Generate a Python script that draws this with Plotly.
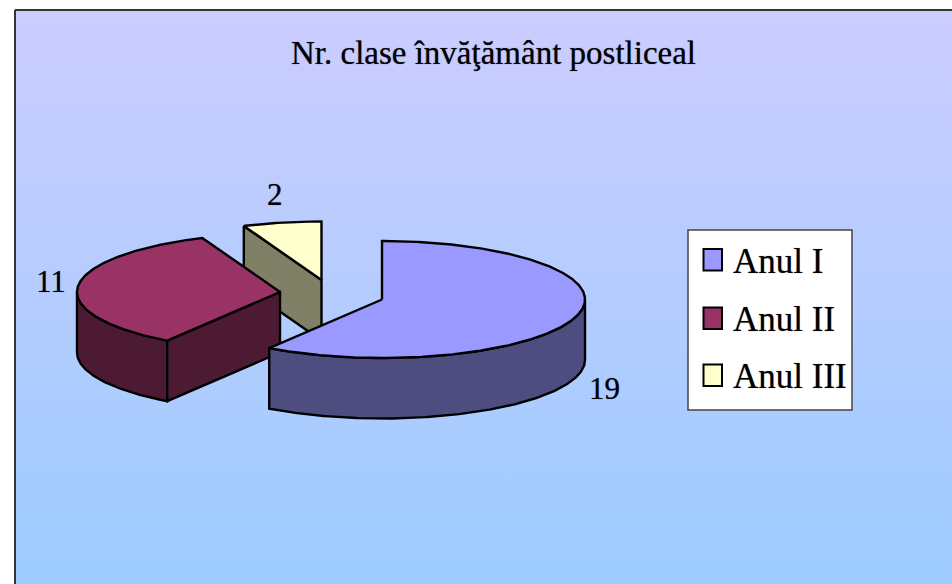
import numpy as np
import plotly.graph_objects as go

# Data
categories = ["Anul I", "Anul II", "Anul III"]
values = [19, 11, 2]
title_text = "Nr. clase învăţământ postliceal"

# Styles
top_colors = ["#9999FF", "#993366", "#FFFFCC"]
side_colors = ["#4D4D80", "#4D1A33", "#808066"]
value_font_px = 31
title_font_px = 33
legend_font_px = 35
serif = "Liberation Serif"
text_shadow = "0 0 1px rgba(0,0,0,0.55)"

# Layout: exploded slice apexes and ellipse geometry, in page pixels
apex = [(382, 299.5), (280, 292), (321.5, 280)]
rx, ry, depth = 203, 58.5, 60.5
label_pos = [(604, 388), (51, 281), (275, 194)]


def arc(cx, cy, a0, a1, dy=0.0):
    """Points of the rim between two clockwise-from-top angles (degrees)."""
    n = max(2, int(abs(a1 - a0) * 2) + 1)
    t = np.radians(np.linspace(a0, a1, n))
    return cx + rx * np.sin(t), cy - ry * np.cos(t) + dy


def poly(x, y, color):
    return go.Scatter(
        x=list(x), y=list(y), mode="lines", fill="toself", fillcolor=color,
        line=dict(color="#000000", width=2.4), hoverinfo="skip", showlegend=False,
    )


# Slice angles derive from the values
total = sum(values)
edges = np.concatenate([[0.0], np.cumsum(values) / total * 360.0])

fig = go.Figure()

# Chart-area background with vertical gradient
fig.add_trace(go.Scatter(
    x=[15, 1000, 1000, 15, 15], y=[10, 10, 640, 640, 10], mode="lines", fill="toself",
    line=dict(color="#333333", width=2), hoverinfo="skip", showlegend=False,
    fillgradient=dict(type="vertical", start=10, stop=640,
                      colorscale=[[0, "#CCCCFF"], [1, "#99CCFF"]]),
))

# Back to front: Anul III, Anul II, Anul I
for i in [2, 1, 0]:
    a0, a1 = edges[i], edges[i + 1]
    cx, cy = apex[i]
    top_x, top_y = arc(cx, cy, a0, a1)

    # Outer wall: only the front-facing part of the rim (90..270 degrees)
    w0, w1 = max(a0, 90.0), min(a1, 270.0)
    if w1 > w0:
        ox, oy = arc(cx, cy, w0, w1)
        fig.add_trace(poly(np.r_[ox, ox[::-1], ox[0]],
                           np.r_[oy, oy[::-1] + depth, oy[0]], side_colors[i]))

    # Radial cut wall, visible for the slices whose start edge faces forward
    if i > 0:
        sx, sy = top_x[0], top_y[0]
        fig.add_trace(poly([sx, cx, cx, sx, sx],
                           [sy, cy, cy + depth, sy + depth, sy], side_colors[i]))

    # Top face
    fig.add_trace(poly(np.r_[cx, top_x, cx], np.r_[cy, top_y, cy], top_colors[i]))

shapes = [dict(type="rect", x0=688, x1=852, y0=230, y1=410, fillcolor="#FFFFFF",
               line=dict(color="#444444", width=1.5))]
annotations = [dict(x=493.5, y=53, text=title_text, showarrow=False,
                    font=dict(family=serif, size=title_font_px, color="#000000", shadow=text_shadow))]

for v, (lx, ly) in zip(values, label_pos):
    annotations.append(dict(x=lx, y=ly, text=str(v), showarrow=False,
                            font=dict(family=serif, size=value_font_px, color="#000000",
                                      shadow=text_shadow)))

legend_rows = [260, 318.5, 375.5]
for name, color, row in zip(categories, top_colors, legend_rows):
    shapes.append(dict(type="rect", x0=703.5, x1=722, y0=row - 11, y1=row + 10.5,
                       fillcolor=color, line=dict(color="#000000", width=2)))
    annotations.append(dict(x=731, y=row + 1, text=name, showarrow=False, xanchor="left",
                            font=dict(family=serif, size=legend_font_px, color="#000000",
                                      shadow=text_shadow)))

fig.update_layout(
    width=952, height=584, margin=dict(l=0, r=0, t=0, b=0),
    paper_bgcolor="#FFFFFF", plot_bgcolor="#FFFFFF", showlegend=False,
    xaxis=dict(range=[0, 952], visible=False, fixedrange=True),
    yaxis=dict(range=[584, 0], visible=False, fixedrange=True),
    shapes=shapes, annotations=annotations,
)

fig.write_html("out.html", config=dict(displayModeBar=False),
               post_script="document.body.style.margin='0';")
